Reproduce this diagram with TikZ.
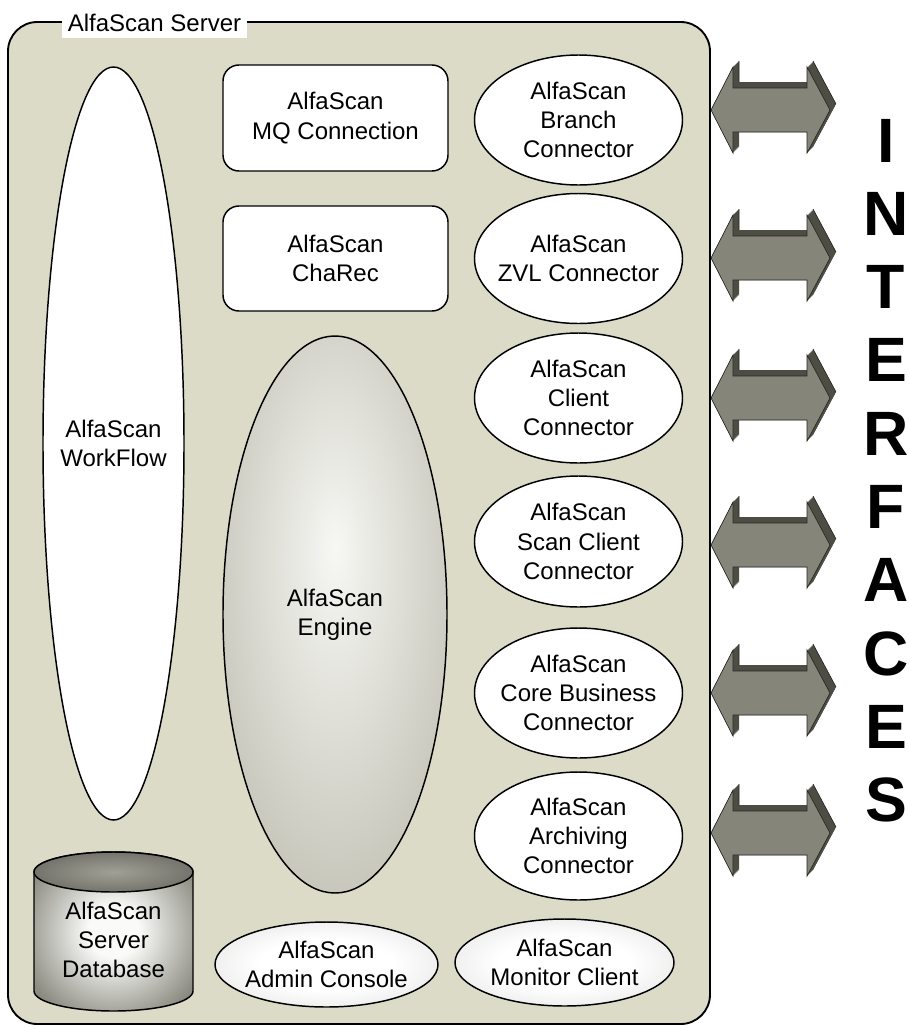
\documentclass[tikz,border=0pt]{standalone}
\usepackage{fontspec}
\setmainfont{Liberation Sans}
\usetikzlibrary{shapes.geometric}
\definecolor{bg}{RGB}{220,219,200}
\definecolor{engin}{RGB}{247,247,244}
\definecolor{engout}{RGB}{168,167,150}
\definecolor{conin}{RGB}{255,255,255}
\definecolor{conout}{RGB}{200,200,198}
\definecolor{dbin}{RGB}{250,250,248}
\definecolor{dbmid}{RGB}{140,140,130}
\definecolor{dbout}{RGB}{72,72,66}
\definecolor{dbtopin}{RGB}{160,160,150}
\definecolor{dbtopout}{RGB}{72,72,66}
\definecolor{arrfront}{RGB}{133,133,121}
\definecolor{arrdark}{RGB}{77,77,68}
\pgfdeclareradialshading{engshade}{\pgfpoint{0bp}{6bp}}{color(0bp)=(engin); color(48bp)=(engout); color(75bp)=(engout)}
\pgfdeclareradialshading{conshade}{\pgfpoint{0bp}{0bp}}{color(0bp)=(conin); color(15bp)=(conin); color(52bp)=(conout); color(75bp)=(conout)}
\pgfdeclareradialshading{dbshade}{\pgfpoint{0bp}{0bp}}{color(0bp)=(dbin); color(8bp)=(dbin); color(30bp)=(dbmid); color(52bp)=(dbout); color(75bp)=(dbout)}
\pgfdeclareradialshading{dbtopshade}{\pgfpoint{0bp}{0bp}}{color(0bp)=(dbtopin); color(50bp)=(dbtopout); color(75bp)=(dbtopout)}
\begin{document}
\begin{tikzpicture}[x=0.75pt,y=-0.75pt,
  sz/.style 2 args={minimum width=#1*0.75pt, minimum height=#2*0.75pt},
  lbl/.style={font=\fontsize{18}{22}\selectfont, align=center, text=black},
  comp/.style={lbl, ellipse, draw=black, line width=1.1pt, fill=white, inner xsep=-20pt, inner ysep=-12pt},
  shcomp/.style={comp, shading=conshade},
  rbox/.style={lbl, rectangle, draw=black, line width=1.1pt, fill=white, rounded corners=12pt, inner sep=0pt},
  letter/.style={font=\fontsize{47}{47}\selectfont\bfseries, text=black, inner sep=0pt},
  arrowpoly/.style={line width=0.5pt, line join=miter}
]
\useasboundingbox (0,0) rectangle (909,1029);
% outer server box
\node[draw=black, line width=1.4pt, fill=bg, rounded corners=22pt, sz={702}{1002}, inner sep=0pt] (server) at (359,523) {};
\node[lbl, fill=white, sz={185}{29}, inner sep=0pt] (srvlabel) at (154.5,23) {AlfaScan Server};
% workflow
\node[comp, sz={141}{753}] (workflow) at (113.5,443.5) {AlfaScan\\WorkFlow};
% rounded boxes
\node[rbox, sz={225}{106}] (mq) at (335.5,118) {AlfaScan\\MQ Connection};
\node[rbox, sz={225}{105}] (charec) at (335.5,258.5) {AlfaScan\\ChaRec};
% engine
\node[comp, shading=engshade, sz={224}{557}] (engine) at (335,614.5) {AlfaScan\\Engine};
% connectors
\node[comp, sz={208}{130}] (branch) at (578.5,120) {AlfaScan\\Branch\\Connector};
\node[comp, sz={208}{130}] (zvl) at (578.5,258.5) {AlfaScan\\ZVL Connector};
\node[comp, sz={208}{130}] (client) at (578.5,398) {AlfaScan\\Client\\Connector};
\node[comp, sz={208}{131}] (scan) at (578.5,541.5) {AlfaScan\\Scan Client\\Connector};
\node[comp, sz={208}{130}] (core) at (578.5,693) {AlfaScan\\Core Business\\Connector};
\node[comp, sz={208}{128}] (archiving) at (578.5,836) {AlfaScan\\Archiving\\Connector};
% bottom
\node[shcomp, sz={223}{85}] (admin) at (326.5,964.5) {AlfaScan\\Admin Console};
\node[shcomp, sz={219}{87}] (monitor) at (564.5,962.5) {AlfaScan\\Monitor Client};
% database cylinder
\shadedraw[shading=dbshade, line width=1.1pt] (34,872) -- (34,991)
  arc[start angle=180, end angle=360, x radius=59.625pt, y radius=15pt] -- (193,872)
  arc[start angle=0, end angle=180, x radius=59.625pt, y radius=15pt] -- cycle;
\shadedraw[shading=dbtopshade, line width=1.1pt] (113.5,872) ellipse[x radius=59.625pt, y radius=15pt];
\node[lbl] (db) at (113.5,940) {AlfaScan\\Server\\Database};
% interface arrows
\foreach \c in {110,258,398,545,693,833}{
  \foreach \t in {6,5.5,...,0}{
    \fill[arrdark, shift={(\t,-\t)}] (711,\c) -- (733,{\c-43}) -- (733,{\c-22}) -- (807,{\c-22}) -- (807,{\c-43}) -- (830,\c) -- (807,{\c+43}) -- (807,{\c+22}) -- (733,{\c+22}) -- (733,{\c+43}) -- cycle;
  }
  \draw[arrowpoly, draw=black!85, shift={(6,-6)}] (733,{\c-43}) -- (733,{\c-22}) (807,{\c-43}) -- (830,\c);
  \filldraw[arrowpoly, fill=arrfront, draw=black!85] (711,\c) -- (733,{\c-43}) -- (733,{\c-22}) -- (807,{\c-22}) -- (807,{\c-43}) -- (830,\c) -- (807,{\c+43}) -- (807,{\c+22}) -- (733,{\c+22}) -- (733,{\c+43}) -- cycle;
}
% INTERFACES
\foreach \L [count=\i from 0] in {I,N,T,E,R,F,A,C,E,S}{
  \node[letter] (letter\i) at (886,{140.5+73.3*\i}) {\L};
}
\end{tikzpicture}
\end{document}
